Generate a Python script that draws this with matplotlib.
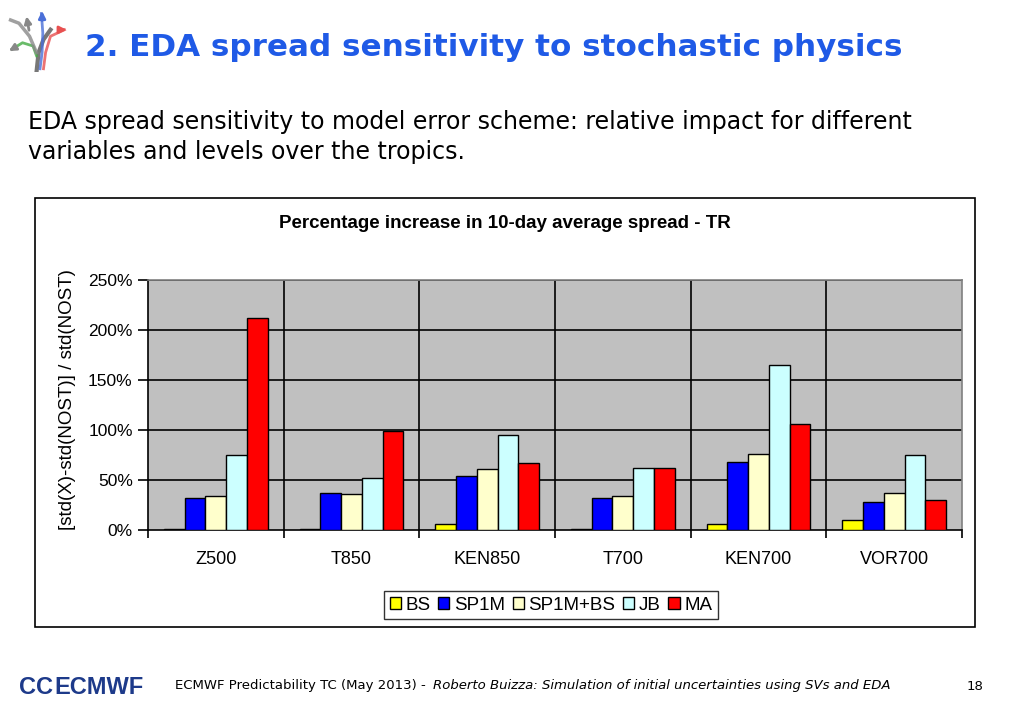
import matplotlib
matplotlib.use("Agg")
import matplotlib.pyplot as plt
import numpy as np
from matplotlib.patches import Rectangle

categories = ["Z500", "T850", "KEN850", "T700", "KEN700", "VOR700"]
series_names = ["BS", "SP1M", "SP1M+BS", "JB", "MA"]
BS = [1, 1, 6, 1, 6, 10]
SP1M = [32, 37, 54, 32, 68, 28]
SP1M_BS = [34, 36, 61, 34, 76, 37]
JB = [75, 52, 95, 62, 165, 75]
MA = [212, 99, 67, 62, 106, 30]
series_values = [BS, SP1M, SP1M_BS, JB, MA]
colors = ["#ffff00", "#0000ff", "#ffffcc", "#ccffff", "#ff0000"]
yticks = [0, 50, 100, 150, 200, 250]
ytick_labels = ["0%", "50%", "100%", "150%", "200%", "250%"]

W, H = 1023, 708
fig = plt.figure(figsize=(W / 100, H / 100), dpi=100)
fig.patch.set_facecolor("white")

def fx(x):
    return x / W

def fy(y):
    return 1 - y / H

# Slide title
fig.text(fx(85), fy(47), "2. EDA spread sensitivity to stochastic physics",
         fontsize=22.3, fontweight="bold", color="#1f5ae6",
         family="DejaVu Sans", va="center", ha="left")

# Subtitle
fig.text(fx(28), fy(122), "EDA spread sensitivity to model error scheme: relative impact for different",
         fontsize=17, color="black", family="DejaVu Sans", va="center", ha="left")
fig.text(fx(28), fy(152), "variables and levels over the tropics.",
         fontsize=17, color="black", family="DejaVu Sans", va="center", ha="left")

# Logo (decorative arrows)
lax = fig.add_axes([fx(5), fy(72), fx(70), 65 / H])
lax.set_xlim(0, 10)
lax.set_ylim(0, 10)
lax.axis("off")
lax.plot([4.5, 4.8, 5.5, 6.5], [0, 3, 5, 6.5], color="#555555", lw=3, alpha=0.8)
lax.plot([5.0, 5.3, 5.4, 5.2], [0.5, 3, 6, 9], color="#4a6fd8", lw=2, alpha=0.8)
lax.plot([5.5, 5.8, 6.5, 8.5], [0.5, 3, 5.5, 6.5], color="#e85050", lw=2, alpha=0.8)
lax.plot([4.5, 4.0, 2.5, 1.0], [2.5, 4.0, 4.5, 3.5], color="#44aa44", lw=2, alpha=0.8)
lax.plot([4.5, 3.5, 2.0, 0.8], [3, 5.5, 7.5, 8.0], color="#888888", lw=2.5, alpha=0.8)
lax.annotate("", xy=(5.3, 9.8), xytext=(5.3, 7.5),
             arrowprops=dict(arrowstyle="-|>", color="#4a6fd8", lw=2))
lax.annotate("", xy=(9.2, 6.5), xytext=(7.5, 6.5),
             arrowprops=dict(arrowstyle="-|>", color="#e85050", lw=2))
lax.annotate("", xy=(0.2, 3.0), xytext=(1.8, 4.0),
             arrowprops=dict(arrowstyle="-|>", color="#888888", lw=2))
lax.annotate("", xy=(3.0, 9.0), xytext=(3.5, 6.0),
             arrowprops=dict(arrowstyle="-|>", color="#888888", lw=2))

# Chart frame
fig.patches.append(Rectangle((fx(35), fy(627)), fx(975) - fx(35), fy(198) - fy(627),
                             transform=fig.transFigure, facecolor="none",
                             edgecolor="black", lw=1.2, zorder=-10))

fig.text(fx(505), fy(224), "Percentage increase in 10-day average spread - TR",
         fontsize=13.5, fontweight="bold", family="Liberation Sans",
         ha="center", va="center")

ax = fig.add_axes([fx(148), fy(530), fx(962) - fx(148), fy(280) - fy(530)])
ax.set_facecolor("#c0c0c0")
n = len(categories)
bw = 0.153
x = np.arange(n)
off = (1 - bw * len(series_names)) / 2
for i, (name, vals, c) in enumerate(zip(series_names, series_values, colors)):
    ax.bar(x + off + bw * i + bw / 2, vals, width=bw, color=c,
           edgecolor="black", linewidth=1.0, label=name, zorder=3, align="center")

ax.set_xlim(0, n)
ax.set_ylim(0, 250)
ax.set_yticks(yticks)
ax.set_yticklabels(ytick_labels, fontsize=12.5, family="Liberation Sans")
for yv in yticks[1:]:
    ax.axhline(yv, color="black", lw=1.2, zorder=1)
for xv in range(1, n):
    ax.axvline(xv, color="black", lw=1.2, zorder=1)
ax.set_xticks(np.arange(n + 1))
ax.set_xticklabels([""] * (n + 1))
ax.set_xticks(x + 0.5, minor=True)
ax.set_xticklabels(categories, minor=True, fontsize=13, family="Liberation Sans")
ax.tick_params(axis="x", which="minor", length=0, pad=15)
ax.tick_params(axis="x", which="major", length=6, direction="out", width=1.2)
ax.tick_params(axis="y", length=7, direction="out", width=1.2, pad=4)
for s in ["left", "bottom"]:
    ax.spines[s].set_color("black")
    ax.spines[s].set_linewidth(1.2)
for s in ["top", "right"]:
    ax.spines[s].set_color("#808080")
    ax.spines[s].set_linewidth(1.2)

fig.text(fx(67), fy(400), "[std(X)-std(NOST)] / std(NOST)", fontsize=13.5,
         family="Liberation Sans", rotation=90, ha="center", va="center")

leg = fig.legend(loc="center", bbox_to_anchor=(fx(551), fy(605)), ncol=5,
                 frameon=True, fancybox=False, edgecolor="black",
                 prop={"family": "Liberation Sans", "size": 13.5},
                 handlelength=0.6, handleheight=0.6, handletextpad=0.25,
                 columnspacing=0.4, borderpad=0.3, borderaxespad=0)
leg.get_frame().set_linewidth(1.0)

# Footer logo
fig.text(fx(19), fy(687), "CC", fontsize=17, fontweight="bold",
         color="#1d3a8a", family="Liberation Sans", ha="left", va="center")
fig.text(fx(54), fy(687), "ECMWF", fontsize=17, fontweight="bold",
         color="#1d3a8a", family="Liberation Sans", ha="left", va="center")
fig.text(fx(175), fy(686), "ECMWF Predictability TC (May 2013) -  ",
         fontsize=9.5, family="DejaVu Sans", ha="left", va="center")
fig.text(fx(433), fy(686), "Roberto Buizza: Simulation of initial uncertainties using SVs and EDA",
         fontsize=9.5, family="DejaVu Sans", style="italic", ha="left", va="center")
fig.text(fx(975), fy(686), "18", fontsize=9.5, family="DejaVu Sans", ha="center", va="center")

fig.savefig("out.png", dpi=100, facecolor="white")
